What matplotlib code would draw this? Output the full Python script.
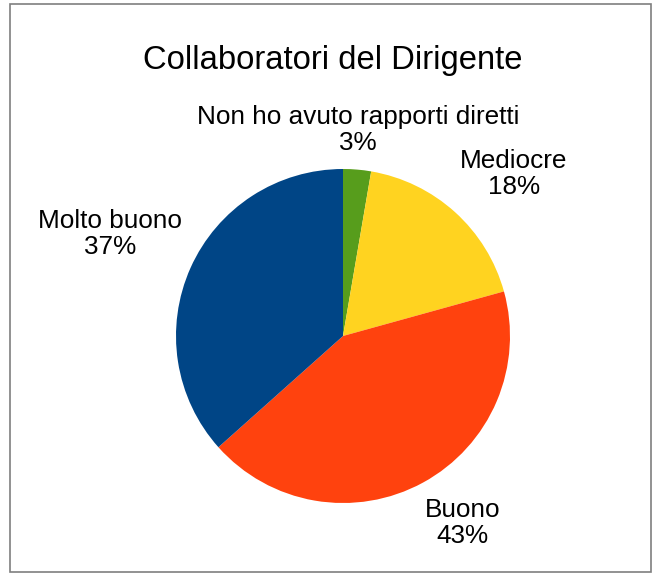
import numpy as np
import matplotlib.pyplot as plt
from matplotlib.patches import Rectangle

plt.rcParams['font.family'] = ['Liberation Sans', 'DejaVu Sans']

labels = ['Non ho avuto rapporti diretti', 'Mediocre', 'Buono', 'Molto buono']
values = [2.7, 18.0, 42.7, 36.6]
colors = ['#579d1c', '#ffd320', '#ff420e', '#004586']
# label placement: distance from centre (radii) and angle tweak (deg)
label_dist = [1.235, 1.41, 1.33, 1.52]
label_turn = [0.7, -4.4, 3.9, 0.5]

fig = plt.figure(figsize=(6.6, 5.74), dpi=100)
fig.patches.append(Rectangle((10 / 660, 2 / 574), 641 / 660, 568 / 574,
                             transform=fig.transFigure, fill=False,
                             edgecolor='#7f7f7f', lw=1.2))

cx, cy, r = 343, 574 - 336, 167
ax = fig.add_axes([(cx - r) / 660, (cy - r) / 574, 2 * r / 660, 2 * r / 574])
wedges, _ = ax.pie(values, colors=colors, startangle=90, counterclock=False,
                   radius=1, wedgeprops=dict(linewidth=0))
ax.set_xlim(-1, 1)
ax.set_ylim(-1, 1)
ax.set_aspect('equal')

total = sum(values)
for w, lab, v, d, t in zip(wedges, labels, values, label_dist, label_turn):
    ang = np.deg2rad((w.theta1 + w.theta2) / 2 + t)
    ax.text(d * np.cos(ang), d * np.sin(ang), f'{lab}\n{round(v / total * 100)}%',
            ha='center', va='center', fontsize=18.8, linespacing=1.12)

fig.text(333 / 660, 1 - 61 / 574, 'Collaboratori del Dirigente',
         ha='center', va='center', fontsize=23.6)

fig.savefig('out.png', dpi=100)
